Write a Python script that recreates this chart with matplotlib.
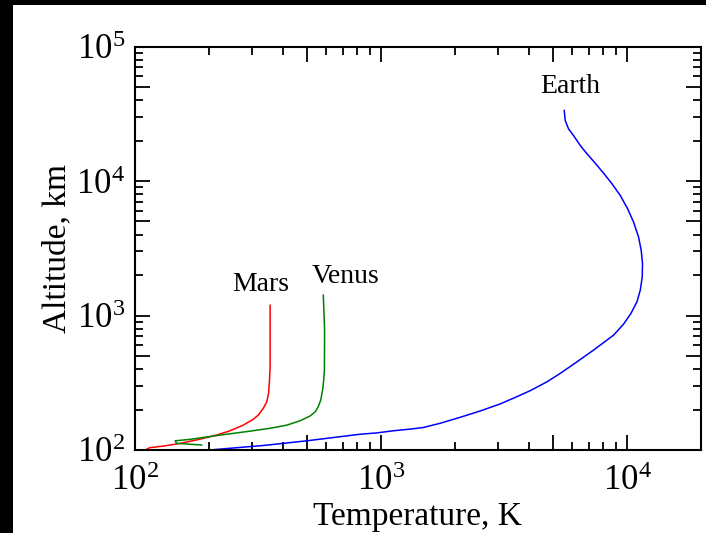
import matplotlib
matplotlib.use("Agg")
import matplotlib.pyplot as plt
from matplotlib.ticker import LogLocator, LogFormatterMathtext, NullFormatter
from matplotlib.patches import Rectangle

plt.rcParams['font.family'] = ['Liberation Serif', 'DejaVu Serif']
plt.rcParams['mathtext.fontset'] = 'custom'
plt.rcParams['mathtext.rm'] = 'Liberation Serif'
plt.rcParams['mathtext.it'] = 'Liberation Serif:italic'

# Earth thermosphere/exosphere temperature profile
earth_T = [202, 244, 333, 500, 824, 963, 1125, 1316, 1490, 1742, 2101, 2533, 3055, 3571,
           4045, 4730, 5357, 6263, 7316, 8823, 9688, 10380, 10980, 11330, 11540, 11570,
           11430, 11150, 10640, 10060, 9393, 8690, 8034, 7431, 6879, 6461, 6066, 5789,
           5614, 5562]
earth_h = [100, 103, 108, 117, 131, 134, 139, 143, 147, 158, 175, 195, 220, 249,
           276, 321, 371, 452, 553, 714, 862, 1035, 1262, 1541, 1934, 2432,
           3053, 3833, 4953, 6228, 7818, 9550, 11450, 13580, 15950, 18380, 21800, 24450,
           28180, 33430]

# Mars
mars_T = [107, 115, 131, 153, 179, 215, 244, 276, 303, 318, 333, 344, 350, 353, 355, 355, 355]
mars_h = [97, 104, 107, 112, 119, 129, 139, 153, 169, 182, 204, 228, 265, 331, 420, 779, 1190]

# Venus
venus_T = [187, 148, 146, 168, 222, 285, 355, 415, 470, 516, 541, 557, 570, 580, 586, 590, 591, 584]
venus_h = [109, 112, 117, 120, 129, 137, 145, 153, 165, 179, 192, 210, 235, 279, 331, 393, 778, 1416]

labels = ["Earth", "Mars", "Venus"]
label_T = [5890, 326, 716]
label_h = [50300, 1706, 1960]

fig = plt.figure(figsize=(7.06, 5.33), dpi=100, facecolor='black')
fig.patches.append(Rectangle((13 / 706, 0), 1, 1 - 5 / 533, transform=fig.transFigure,
                             facecolor='white', edgecolor='none', zorder=-10))
ax = fig.add_axes([134.7 / 706, 1 - 450 / 533, (701 - 134.7) / 706, (450 - 46.5) / 533])

ax.plot(earth_T, earth_h, color='#0000ff', lw=1.1)
ax.plot(mars_T, mars_h, color='#ff0000', lw=1.1)
ax.plot(venus_T, venus_h, color='#008000', lw=1.1)

for lab, t, h in zip(labels, label_T, label_h):
    ax.text(t, h, lab, ha='center', va='center', fontsize=20)

ax.set_xscale('log')
ax.set_yscale('log')
ax.set_xlim(100, 2e4)
ax.set_ylim(100, 1e5)

for axis in (ax.xaxis, ax.yaxis):
    axis.set_major_locator(LogLocator(base=10, subs=(1.0, 5.0)))
    axis.set_major_formatter(LogFormatterMathtext(base=10, labelOnlyBase=True))
    axis.set_minor_locator(LogLocator(base=10, subs=(2, 3, 4, 6, 7, 8, 9)))
    axis.set_minor_formatter(NullFormatter())

ax.tick_params(which='both', direction='in', top=True, right=True, width=1.3, labelsize=25)
ax.tick_params(which='major', length=11, pad=7)
ax.tick_params(axis='x', which='major', pad=11)
ax.tick_params(which='minor', length=5.5)
for s in ax.spines.values():
    s.set_linewidth(1.5)

ax.set_xlabel('Temperature, K', fontsize=24, labelpad=2)
ax.set_ylabel('Altitude, km', fontsize=24, labelpad=3)

fig.savefig('out.png', dpi=100, facecolor=fig.get_facecolor())
